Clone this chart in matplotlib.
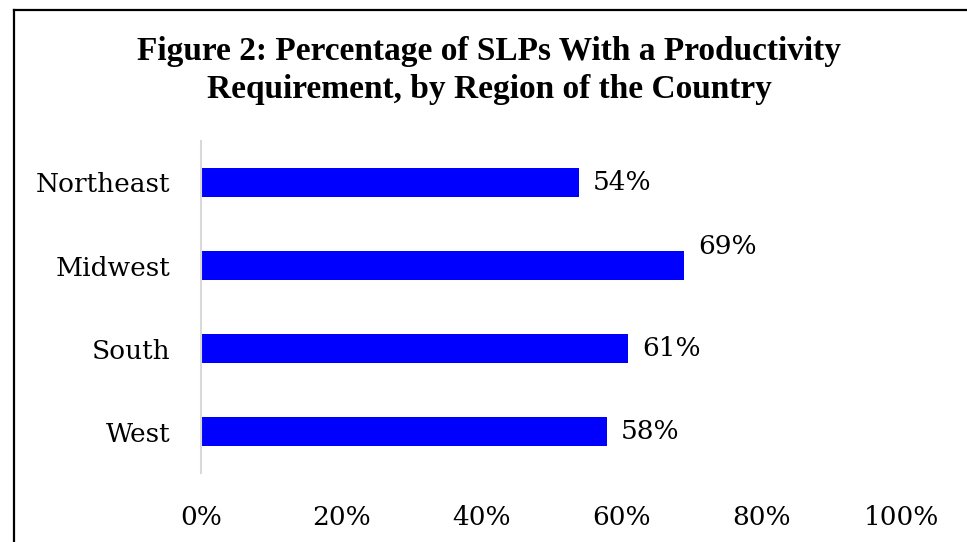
#!/usr/bin/env python3
"""Horizontal bar chart: SLPs with a productivity requirement, by region."""

import matplotlib.pyplot as plt
from matplotlib.lines import Line2D

regions = ["Northeast", "Midwest", "South", "West"]
shares = [54, 69, 61, 58]
xticks = [0, 20, 40, 60, 80, 100]
title = ("Figure 2: Percentage of SLPs With a Productivity\n"
         "Requirement, by Region of the Country")

plt.rcParams["font.family"] = ["DejaVu Serif"]
LABEL_FONT = {"family": "DejaVu Serif", "size": 19}

fig = plt.figure(figsize=(9.67, 5.42), dpi=100)
ax = fig.add_axes([0.208, 0.127, 0.730, 0.613])

ypos = list(range(len(regions)))
ax.barh(ypos, shares, height=0.35, color="#0000FF")
ax.set_ylim(len(regions) - 0.5, -0.5)
ax.set_xlim(0, 100.8)

# value labels; the Midwest label sits higher in the original
for i, v in enumerate(shares):
    dy = 14 if regions[i] == "Midwest" else 0
    ax.annotate(f"{v}%", (v, i), xytext=(10, dy), textcoords="offset points",
                ha="left", va="center", **LABEL_FONT)

ax.set_yticks(ypos)
ax.set_yticklabels(regions, fontdict=LABEL_FONT)
ax.set_xticks(xticks)
ax.set_xticklabels([f"{t}%" for t in xticks], fontdict=LABEL_FONT)
ax.tick_params(length=0)
ax.tick_params(axis="x", pad=23)
ax.tick_params(axis="y", pad=22)

for side in ["top", "right", "bottom"]:
    ax.spines[side].set_visible(False)
ax.spines["left"].set_color("#d9d9d9")
ax.spines["left"].set_linewidth(1.5)

fig.text(0.506, 0.870, title, ha="center", va="center", fontsize=24,
         fontweight="bold", family="Liberation Serif", linespacing=1.3)

# outer frame (only left and top edges are in view)
fig.add_artist(Line2D([0.014, 0.014], [0.0, 0.982], color="black", lw=1.6,
                      transform=fig.transFigure))
fig.add_artist(Line2D([0.014, 1.0], [0.982, 0.982], color="black", lw=1.6,
                      transform=fig.transFigure))

fig.savefig("out.png", dpi=100)
